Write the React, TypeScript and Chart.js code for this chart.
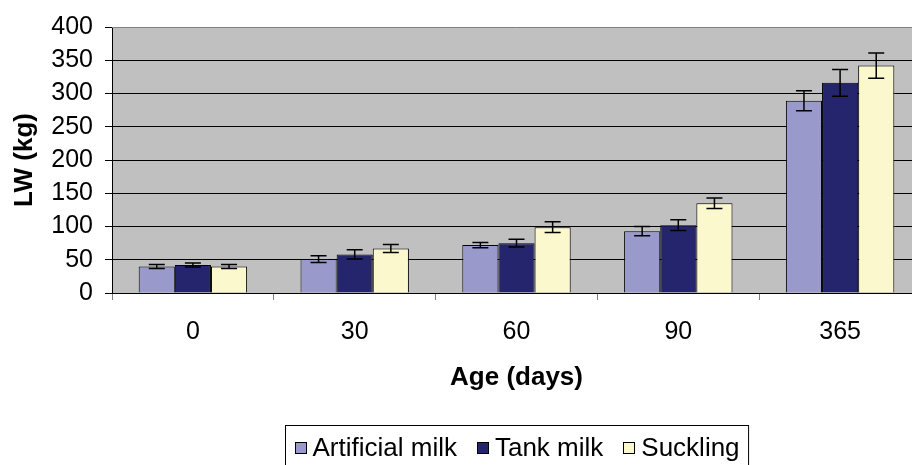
import React, { useEffect, useRef } from "react";
import { Chart, registerables } from "chart.js";

Chart.register(...registerables);

const categories = ["0", "30", "60", "90", "365"];
const seriesNames = ["Artificial milk", "Tank milk", "Suckling"];
const artificialMilk = [40, 51, 72, 93, 289];
const tankMilk = [42, 58, 75, 102, 316];
const suckling = [40, 67, 99, 135, 342];
const artificialErr = [3, 5, 4, 7, 15];
const tankErr = [3, 7, 6, 8, 20];
const sucklingErr = [3, 6, 8, 8, 19];
const yMin = 0;
const yMax = 400;
const yStep = 50;

const colors = ["#9999CC", "#25256D", "#FBF8CE"];
const FONT = "'Liberation Sans', Arial, sans-serif";

const bgPlugin = {
  id: "plotBg",
  beforeDraw(chart: any) {
    const { ctx, chartArea } = chart;
    ctx.save();
    ctx.fillStyle = "#C0C0C0";
    ctx.fillRect(chartArea.left, chartArea.top, chartArea.right - chartArea.left, chartArea.bottom - chartArea.top);
    ctx.restore();
  },
  afterDraw(chart: any) {
    const { ctx, chartArea } = chart;
    ctx.save();
    ctx.strokeStyle = "#808080";
    ctx.lineWidth = 1;
    ctx.beginPath();
    ctx.moveTo(chartArea.left, chartArea.top + 0.5);
    ctx.lineTo(chartArea.right, chartArea.top + 0.5);
    ctx.stroke();
    ctx.restore();
  },
};

const errorBarPlugin = {
  id: "errorBars",
  afterDatasetsDraw(chart: any) {
    const { ctx } = chart;
    const yScale = chart.scales.y;
    ctx.save();
    ctx.strokeStyle = "#000";
    ctx.lineWidth = 1.5;
    chart.data.datasets.forEach((ds: any, i: number) => {
      const meta = chart.getDatasetMeta(i);
      meta.data.forEach((el: any, j: number) => {
        const v = ds.data[j];
        const e = ds.errors[j];
        const x = el.x;
        const yt = yScale.getPixelForValue(v + e);
        const yb = yScale.getPixelForValue(v - e);
        const cap = 8;
        ctx.beginPath();
        ctx.moveTo(x, yt);
        ctx.lineTo(x, yb);
        ctx.moveTo(x - cap, yt);
        ctx.lineTo(x + cap, yt);
        ctx.moveTo(x - cap, yb);
        ctx.lineTo(x + cap, yb);
        ctx.stroke();
      });
    });
    ctx.restore();
  },
};

const legendPlugin = {
  id: "boxLegend",
  afterDraw(chart: any) {
    const { ctx, chartArea } = chart;
    ctx.save();
    ctx.font = `26px ${FONT}`;
    const sq = 12;
    const gapSqText = 6;
    const itemGap = 20;
    const pad = 9;
    const items = chart.data.datasets.map((ds: any) => ({
      label: ds.label,
      color: ds.backgroundColor,
      w: ctx.measureText(ds.label).width,
    }));
    let content = 0;
    items.forEach((it: any, i: number) => {
      content += sq + gapSqText + it.w + (i < items.length - 1 ? itemGap : 0);
    });
    const boxW = content + pad * 2;
    const cx = (chartArea.left + chartArea.right) / 2;
    const boxL = Math.round(cx - boxW / 2) + 0.5;
    const boxT = 425.5;
    ctx.strokeStyle = "#000";
    ctx.lineWidth = 1;
    ctx.strokeRect(boxL, boxT, boxW, 48);
    let x = boxL + pad;
    const cy = 447.5;
    ctx.textBaseline = "middle";
    ctx.textAlign = "left";
    items.forEach((it: any) => {
      ctx.fillStyle = it.color;
      ctx.fillRect(Math.round(x), Math.round(cy - sq / 2), sq, sq);
      ctx.strokeStyle = "#000";
      ctx.strokeRect(Math.round(x) + 0.5, Math.round(cy - sq / 2) + 0.5, sq - 1, sq - 1);
      x += sq + gapSqText;
      ctx.fillStyle = "#000";
      ctx.fillText(it.label, x, cy + 1);
      x += it.w + itemGap;
    });
    ctx.restore();
  },
};

export default function App() {
  const ref = useRef<HTMLCanvasElement>(null);
  useEffect(() => {
    if (!ref.current) return;
    const values = [artificialMilk, tankMilk, suckling];
    const errs = [artificialErr, tankErr, sucklingErr];
    const chart = new Chart(ref.current, {
      type: "bar",
      data: {
        labels: categories,
        datasets: seriesNames.map((name, i) => ({
          label: name,
          data: values[i],
          errors: errs[i],
          backgroundColor: colors[i],
          borderColor: "#000",
          borderWidth: 1,
          categoryPercentage: 0.67,
          barPercentage: 1.0,
        })) as any,
      },
      options: {
        responsive: false,
        animation: false,
        layout: { padding: { left: 0, right: 9, top: 27, bottom: 72 } },
        plugins: {
          legend: { display: false },
          tooltip: { enabled: false },
        },
        scales: {
          x: {
            grid: {
              drawOnChartArea: false,
              drawTicks: true,
              tickLength: 7,
              tickColor: "#808080",
              offset: true,
            },
            border: { color: "#000", width: 1 },
            ticks: {
              color: "#000",
              font: { family: FONT, size: 25 },
              padding: 17,
              maxRotation: 0,
            },
            title: {
              display: true,
              text: "Age (days)",
              color: "#000",
              font: { family: FONT, size: 26, weight: "bold" },
              padding: { top: 0, bottom: 0 },
            },
            afterFit(scale: any) {
              scale.height = 100;
            },
          },
          y: {
            min: yMin,
            max: yMax,
            grid: {
              color: (c: any) => (c.tick && c.tick.value === yMax ? "rgba(0,0,0,0)" : "#000"),
              tickColor: "#000",
              tickLength: 7,
              lineWidth: 1,
            },
            border: { color: "#000", width: 1 },
            ticks: {
              stepSize: yStep,
              color: "#000",
              font: { family: FONT, size: 25 },
              padding: 12,
            },
            title: {
              display: true,
              text: "LW (kg)",
              color: "#000",
              font: { family: FONT, size: 26, weight: "bold" },
              padding: { top: 9, bottom: 0 },
            },
            afterFit(scale: any) {
              scale.width = 112;
            },
          },
        },
      } as any,
      plugins: [bgPlugin, errorBarPlugin, legendPlugin],
    });
    return () => chart.destroy();
  }, []);
  return (
    <div style={{ position: "fixed", left: 0, top: 0, width: 912, height: 465, overflow: "hidden", background: "#fff" }}>
      <canvas ref={ref} width={930} height={465} style={{ display: "block" }} />
    </div>
  );
}
